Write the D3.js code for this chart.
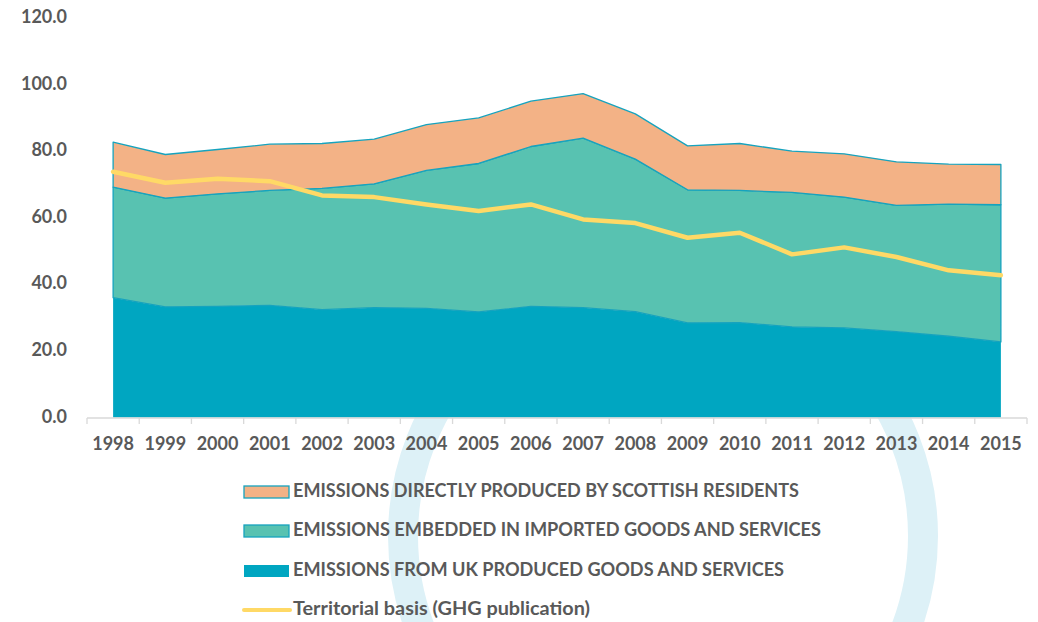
<!DOCTYPE html>
<html>
<head>
<meta charset="utf-8">
<script src="https://cdn.jsdelivr.net/npm/d3@7"></script>
<style>
  html, body { margin: 0; padding: 0; background: #ffffff; }
  svg { display: block; }
  text { font-family: Lato, "Open Sans", sans-serif; font-weight: 700; fill: #595959; }
</style>
</head>
<body>
<svg id="chart" width="1038" height="622"></svg>
<script>
// Years on the x axis
const years = ["1998","1999","2000","2001","2002","2003","2004","2005","2006",
               "2007","2008","2009","2010","2011","2012","2013","2014","2015"];

// Emissions from UK produced goods and services (MtCO2e)
const ukProduced = [36.0, 33.2, 33.4, 33.7, 32.4, 33.0, 32.8, 31.7, 33.4,
                    33.0, 31.8, 28.4, 28.5, 27.2, 26.9, 25.8, 24.4, 22.7];

// Emissions embedded in imported goods and services
const imported = [33.2, 32.7, 33.8, 34.5, 36.4, 37.2, 41.4, 44.6, 48.0,
                  50.9, 45.8, 40.0, 39.7, 40.4, 39.3, 37.9, 39.7, 41.2];

// Emissions directly produced by Scottish residents
const direct = [13.5, 13.1, 13.3, 13.9, 13.5, 13.4, 13.8, 13.7, 13.6,
                13.4, 13.6, 13.2, 14.1, 12.4, 13.0, 13.1, 12.0, 12.1];

// Territorial basis (GHG publication)
const territorial = [73.8, 70.5, 71.7, 71.0, 66.7, 66.2, 64.0, 62.0, 64.0,
                     59.5, 58.4, 54.0, 55.5, 49.0, 51.1, 48.2, 44.2, 42.7];

// y axis ticks
const yTicks = [0, 20, 40, 60, 80, 100, 120];

// Legend entries
const legendLabels = [
  "EMISSIONS DIRECTLY PRODUCED BY SCOTTISH RESIDENTS",
  "EMISSIONS EMBEDDED IN IMPORTED GOODS AND SERVICES",
  "EMISSIONS FROM UK PRODUCED GOODS AND SERVICES",
  "Territorial basis (GHG publication)"
];

const colors = {
  uk: "#00A6C1",
  imported: "#58C2B1",
  direct: "#F3B286",
  outline: "#16A3BE",
  line: "#FFD966",
  axis: "#D9D9D9",
  ring: "#DDF1F7"
};

const svg = d3.select("#chart");

// faint decorative ring behind the chart
svg.append("circle")
  .attr("cx", 663).attr("cy", 536).attr("r", 260)
  .attr("fill", "none")
  .attr("stroke", colors.ring)
  .attr("stroke-width", 30);

const x = d3.scaleBand().domain(years).range([87, 1027]).padding(0);
const cx = d => x(d) + x.bandwidth() / 2;
const y = d3.scaleLinear().domain([0, 120]).range([417.5, 18]);

// stacked table built from the series arrays
const table = years.map((yr, i) => ({
  year: yr, uk: ukProduced[i], imported: imported[i], direct: direct[i]
}));
const stacked = d3.stack().keys(["uk", "imported", "direct"])(table);

const area = d3.area()
  .x(d => cx(d.data.year))
  .y0(d => y(d[0]))
  .y1(d => y(d[1]));

const fills = { uk: colors.uk, imported: colors.imported, direct: colors.direct };

const areas = svg.append("g");
stacked.forEach(s => {
  areas.append("path")
    .datum(s)
    .attr("d", area)
    .attr("fill", fills[s.key])
    .attr("stroke", s.key === "uk" ? "none" : colors.outline)
    .attr("stroke-width", s.key === "uk" ? 0 : 1.3)
    .attr("stroke-linejoin", "round");
});

// x axis baseline and category boundary ticks
const axisG = svg.append("g");
axisG.append("line")
  .attr("x1", 87).attr("x2", 1027)
  .attr("y1", y(0) + 0.5).attr("y2", y(0) + 0.5)
  .attr("stroke", colors.axis).attr("stroke-width", 1.3);
const bounds = years.map(d => x(d)).concat([x(years[years.length - 1]) + x.bandwidth()]);
axisG.selectAll("line.tick").data(bounds).enter().append("line")
  .attr("class", "tick")
  .attr("x1", d => d).attr("x2", d => d)
  .attr("y1", y(0) + 0.5).attr("y2", y(0) + 6.5)
  .attr("stroke", colors.axis).attr("stroke-width", 1.3);

// year labels
const xAxis = d3.axisBottom(x).tickSize(0).tickPadding(0);
const xg = svg.append("g").attr("transform", `translate(0, ${y(0)})`).call(xAxis);
xg.select(".domain").remove();
xg.selectAll("text")
  .attr("dy", null)
  .attr("y", 28)
  .attr("dominant-baseline", "middle")
  .style("font-family", "Lato, 'Open Sans', sans-serif")
  .style("font-weight", 700)
  .style("font-size", "18px")
  .style("fill", "#595959");

// y axis labels
const yAxis = d3.axisLeft(y).tickValues(yTicks).tickFormat(d3.format(".1f")).tickSize(0).tickPadding(0);
const yg = svg.append("g").attr("transform", "translate(67, 0)").call(yAxis);
yg.select(".domain").remove();
yg.selectAll("text")
  .attr("dy", null)
  .attr("x", 0)
  .attr("dominant-baseline", "middle")
  .style("font-family", "Lato, 'Open Sans', sans-serif")
  .style("font-weight", 700)
  .style("font-size", "18px")
  .style("fill", "#595959");

// territorial line
const line = d3.line()
  .x((d, i) => cx(years[i]))
  .y(d => y(d));
svg.append("path")
  .datum(territorial)
  .attr("d", line)
  .attr("fill", "none")
  .attr("stroke", colors.line)
  .attr("stroke-width", 4.5)
  .attr("stroke-linejoin", "round")
  .attr("stroke-linecap", "round");

// legend
const legendRows = [492, 531, 571, 610];
const legend = svg.append("g");
const swatches = [
  { fill: colors.direct, stroke: colors.outline },
  { fill: colors.imported, stroke: colors.outline },
  { fill: colors.uk, stroke: "none" }
];
swatches.forEach((s, i) => {
  legend.append("rect")
    .attr("x", 244).attr("y", legendRows[i] - 6)
    .attr("width", 45).attr("height", 12)
    .attr("fill", s.fill)
    .attr("stroke", s.stroke)
    .attr("stroke-width", s.stroke === "none" ? 0 : 1.3);
});
legend.append("line")
  .attr("x1", 244).attr("x2", 290)
  .attr("y1", legendRows[3]).attr("y2", legendRows[3])
  .attr("stroke", colors.line).attr("stroke-width", 4)
  .attr("stroke-linecap", "round");
const legendWidths = [506, 528, 491, 297];
legendLabels.forEach((t, i) => {
  legend.append("text")
    .attr("x", 293).attr("y", legendRows[i])
    .attr("dominant-baseline", "middle")
    .attr("textLength", legendWidths[i])
    .attr("lengthAdjust", "spacingAndGlyphs")
    .style("font-size", i === 3 ? "19px" : "18px")
    .text(t);
});
</script>
</body>
</html>
